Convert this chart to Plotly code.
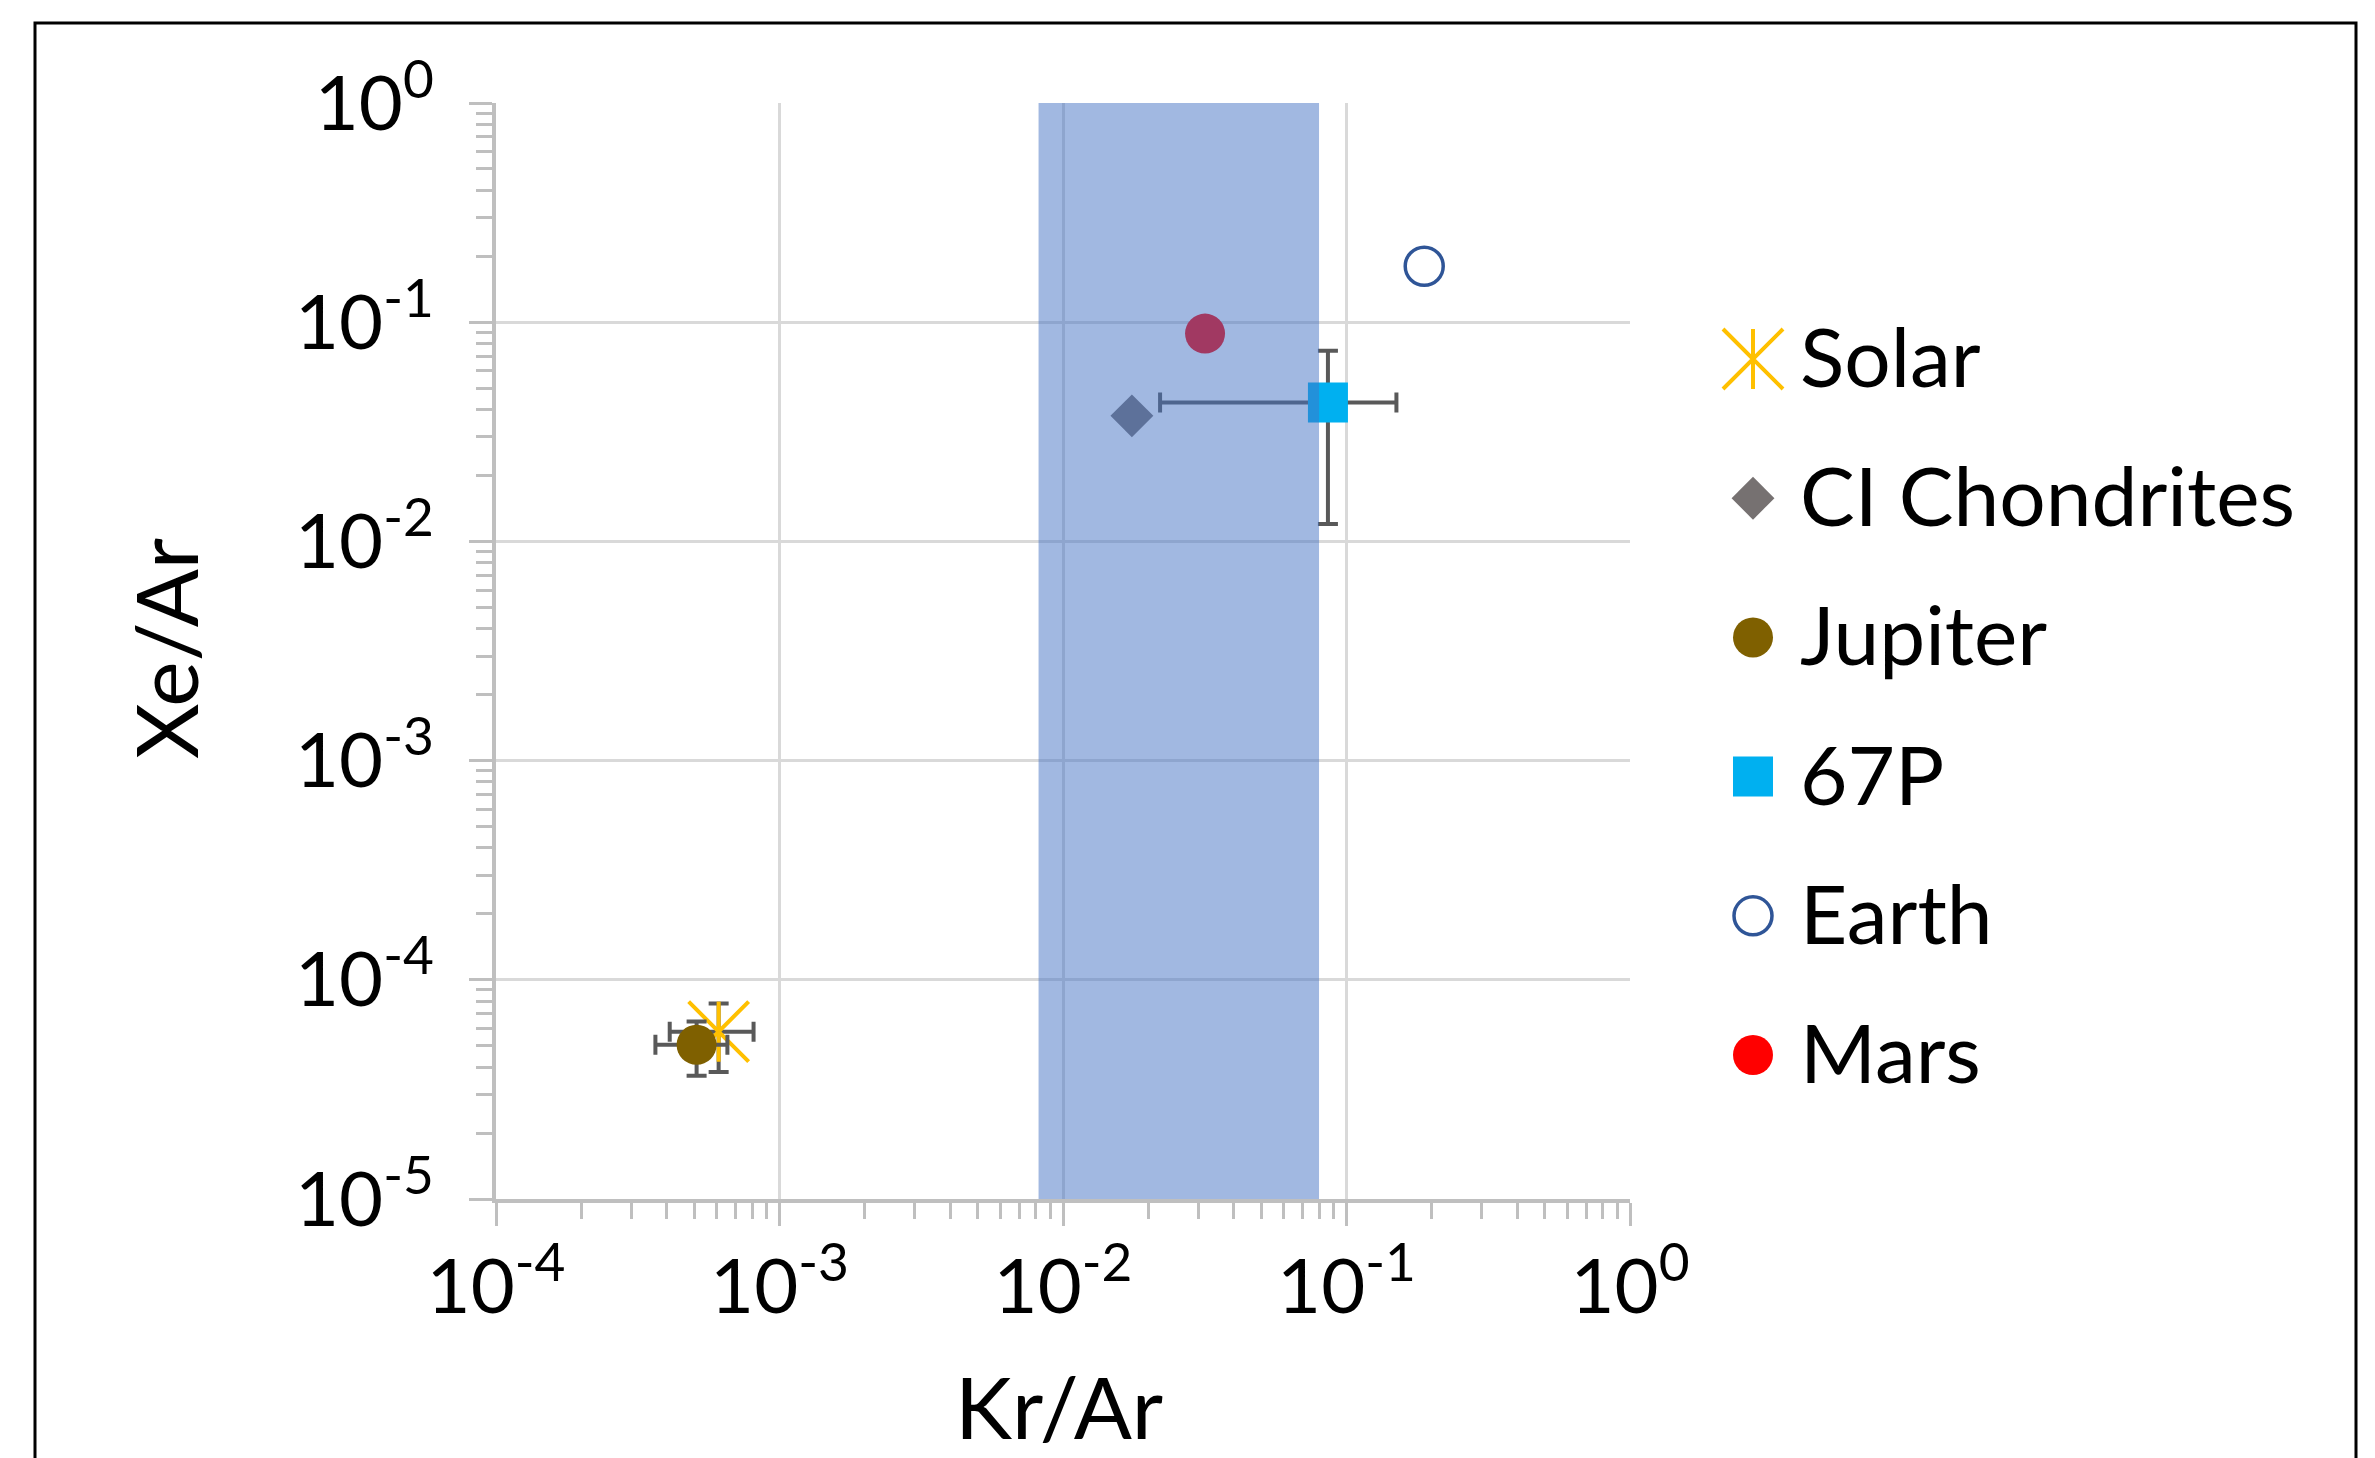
import plotly.graph_objects as go

# ---------------- data ----------------
names = ["Solar", "CI Chondrites", "Jupiter", "67P", "Earth", "Mars"]
kr_ar = [6.1e-4, 0.0175, 5.1e-4, 0.086, 0.188, 0.0317]
xe_ar = [5.8e-5, 0.0374, 5.05e-5, 0.043, 0.180, 0.0887]
kr_err = [2.0e-4, None, 1.45e-4, 0.064, None, None]
xe_err = [2.0e-5, None, 1.4e-5, 0.031, None, None]
band_kr = [0.0082, 0.080]          # shaded Kr/Ar range
x_tickvals = [1e-4, 1e-3, 1e-2, 1e-1, 1]
x_ticktext = ["10<sup>-4</sup>", "10<sup>-3</sup>", "10<sup>-2</sup>", "10<sup>-1</sup>", "10<sup>0</sup>"]
y_tickvals = [1e-5, 1e-4, 1e-3, 1e-2, 1e-1, 1]
y_ticktext = ["10<sup>-5</sup>", "10<sup>-4</sup>", "10<sup>-3</sup>", "10<sup>-2</sup>", "10<sup>-1</sup>", "10<sup>0</sup>"]
x_range = [1e-4, 1]
y_range = [1e-5, 1]

# ---------------- styles ----------------
W, H = 2375, 1458
L, R, T, B = 488, 1622, 95, 1191
FONT = "Lato"
ERR_COLOR = "#595959"
styles = {
    "Solar": dict(symbol="x-thin-open", size=60, color="#FFC000", line=dict(color="#FFC000", width=4)),
    "CI Chondrites": dict(symbol="diamond", size=33, color="#767171", line=dict(width=0)),
    "Jupiter": dict(symbol="circle", size=40, color="#7F6000", line=dict(width=0)),
    "67P": dict(symbol="square", size=40, color="#00B0F0", line=dict(width=0)),
    "Earth": dict(symbol="circle-open", size=38, color="#2F5597", line=dict(color="#2F5597", width=3.5)),
    "Mars": dict(symbol="circle", size=40, color="#FF0000", line=dict(width=0)),
}
solar_extra = dict(symbol="line-ns-open", size=43, color="#FFC000", line=dict(color="#FFC000", width=4))

fig = go.Figure()

def err(v):
    if v is None:
        return dict(visible=False)
    return dict(type="data", array=[v], visible=True, color=ERR_COLOR, thickness=4, width=10)

for i, n in enumerate(names):
    fig.add_trace(go.Scatter(
        x=[kr_ar[i]], y=[xe_ar[i]], mode="markers", name=n, showlegend=False,
        marker=styles[n], error_x=err(kr_err[i]), error_y=err(xe_err[i]),
        xaxis="x", yaxis="y", cliponaxis=False))
    if n == "Solar":
        fig.add_trace(go.Scatter(x=[kr_ar[i]], y=[xe_ar[i]], mode="markers", showlegend=False,
                                 marker=solar_extra, xaxis="x", yaxis="y", hoverinfo="skip"))

# translucent band drawn above the markers
fig.add_trace(go.Scatter(
    x=[band_kr[0], band_kr[1], band_kr[1], band_kr[0], band_kr[0]],
    y=[y_range[0], y_range[0], y_range[1], y_range[1], y_range[0]],
    mode="none", fill="toself", fillcolor="rgba(68,114,196,0.5)", showlegend=False,
    hoverinfo="skip", xaxis="x", yaxis="y"))

# custom legend on an auxiliary hidden axis pair
leg_idx = list(range(len(names)))
for i, n in enumerate(names):
    fig.add_trace(go.Scatter(x=[0], y=[leg_idx[i]], mode="markers", marker=styles[n],
                             showlegend=False, hoverinfo="skip", xaxis="x2", yaxis="y2"))
    if n == "Solar":
        fig.add_trace(go.Scatter(x=[0], y=[leg_idx[i]], mode="markers", marker=solar_extra,
                                 showlegend=False, hoverinfo="skip", xaxis="x2", yaxis="y2"))
    fig.add_annotation(x=1, y=leg_idx[i], xref="x2", yref="y2", text=n, showarrow=False,
                       xanchor="left", yanchor="middle", yshift=4,
                       font=dict(family=FONT, size=82, color="black"))

axis_common = dict(
    type="log", showline=True, linecolor="#BFBFBF", linewidth=4,
    showgrid=True, gridcolor="#D9D9D9", gridwidth=3, zeroline=False,
    ticks="outside", ticklen=23, tickwidth=3, tickcolor="#BFBFBF",
    tickmode="array", automargin=False,
    tickfont=dict(family=FONT, size=76, color="black"),
    minor=dict(ticks="outside", ticklen=16, tickwidth=3, tickcolor="#BFBFBF", dtick="D1", showgrid=False),
)

step = 139.2
leg_top = 351 - step / 2
leg_bot = leg_top + step * len(names)

fig.update_layout(
    width=W, height=H, margin=dict(l=0, r=0, t=0, b=0),
    paper_bgcolor="white", plot_bgcolor="white", showlegend=False,
    xaxis=dict(axis_common, domain=[L / W, R / W], range=[-4, 0],
               tickvals=x_tickvals, ticktext=x_ticktext, anchor="y", ticklabelstandoff=-4),
    yaxis=dict(axis_common, domain=[(H - B) / H, (H - T) / H], range=[-5, 0],
               tickvals=y_tickvals, ticktext=y_ticktext, anchor="x", ticklabelstandoff=20),
    xaxis2=dict(domain=[1700 / W, 1790 / W], range=[-1, 1], visible=False, anchor="y2", fixedrange=True),
    yaxis2=dict(domain=[(H - leg_bot) / H, (H - leg_top) / H], range=[len(names) - 0.5, -0.5],
                visible=False, anchor="x2", fixedrange=True),
)

# axis titles
fig.add_annotation(x=1051 / W, y=(H - 1397) / H, xref="paper", yref="paper", text="Kr/Ar",
                   showarrow=False, xanchor="center", yanchor="middle",
                   font=dict(family=FONT, size=86, color="black"))
fig.add_annotation(x=156 / W, y=(H - 641) / H, xref="paper", yref="paper", text="Xe/Ar",
                   showarrow=False, xanchor="center", yanchor="middle", textangle=-90,
                   font=dict(family=FONT, size=86, color="black"))

# outer frame
fig.add_shape(type="rect", xref="paper", yref="paper", x0=27 / W, x1=2348 / W,
              y0=-0.2, y1=(H - 15) / H, line=dict(color="black", width=3), fillcolor="rgba(0,0,0,0)")

fig.write_html("out.html")
